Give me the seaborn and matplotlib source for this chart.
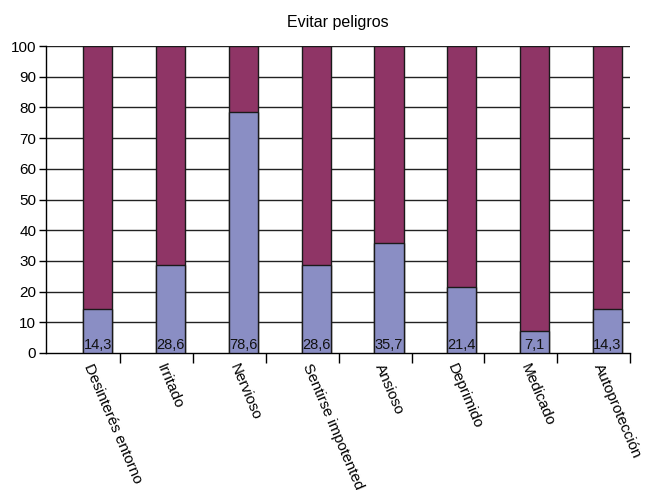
import matplotlib
matplotlib.use("Agg")
import matplotlib.pyplot as plt
import seaborn as sns
import pandas as pd

categories = ["Desinterés entorno", "Irritado", "Nervioso", "Sentirse impotented",
              "Ansioso", "Deprimido", "Medicado", "Autoprotección"]
lower_values = [14.3, 28.6, 78.6, 28.6, 35.7, 21.4, 7.1, 14.3]
upper_values = [85.7, 71.4, 21.4, 71.4, 64.3, 78.6, 92.9, 85.7]
y_ticks = [0, 10, 20, 30, 40, 50, 60, 70, 80, 90, 100]
title = "Evitar peligros"

sns.set_theme(style="white")
plt.rcParams["font.family"] = ["Liberation Sans", "DejaVu Sans"]

df = pd.DataFrame({
    "cat": categories,
    "lower": lower_values,
    "total": [a + b for a, b in zip(lower_values, upper_values)],
})

fig = plt.figure(figsize=(6.46, 4.90), dpi=100)
ax = fig.add_axes([0.0712, 0.2796, 0.9038, 0.6264])

# horizontal grid
for t in y_ticks[1:]:
    ax.axhline(t, color="#222222", lw=1.0, zorder=0)

sns.barplot(data=df, x="cat", y="total", color="#8F3566", saturation=1,
            width=0.4, edgecolor="#1a1a1a", linewidth=1.0, ax=ax, zorder=2)
sns.barplot(data=df, x="cat", y="lower", color="#8A8EC4", saturation=1,
            width=0.4, edgecolor="#1a1a1a", linewidth=1.0, ax=ax, zorder=3)

ax.set_xlim(-0.713, 7.30)
ax.set_ylim(0, 100)
ax.set_yticks(y_ticks)
ax.set_yticklabels([str(t) for t in y_ticks], fontsize=11, color="black")
ax.set_xticks([i + 0.31 for i in range(len(categories))])
ax.set_xticklabels([])
ax.tick_params(axis="x", direction="out", length=7, width=1, color="black", bottom=True)
ax.tick_params(axis="y", direction="out", length=5, width=1, color="black", left=True, pad=2)
ax.set_xlabel("")
ax.set_ylabel("")

for s in ["top", "right"]:
    ax.spines[s].set_visible(False)
for s in ["left", "bottom"]:
    ax.spines[s].set_color("black")
    ax.spines[s].set_linewidth(1.0)

# value labels inside the lower segments
for i, v in enumerate(lower_values):
    ax.text(i, 0.4, f"{v:.1f}".replace(".", ","), ha="center", va="bottom",
            fontsize=10.5, color="#111111", zorder=5)

# rotated category labels
for i, c in enumerate(categories):
    ax.annotate(c, xy=(i - 0.05, 0), xycoords=("data", "axes fraction"),
                xytext=(0, -6), textcoords="offset points",
                rotation=-67, rotation_mode="anchor", ha="left", va="top",
                fontsize=11, color="black", annotation_clip=False)

ax.set_title(title, fontsize=11.5, color="black", pad=14)

fig.savefig("out.png", dpi=100)
